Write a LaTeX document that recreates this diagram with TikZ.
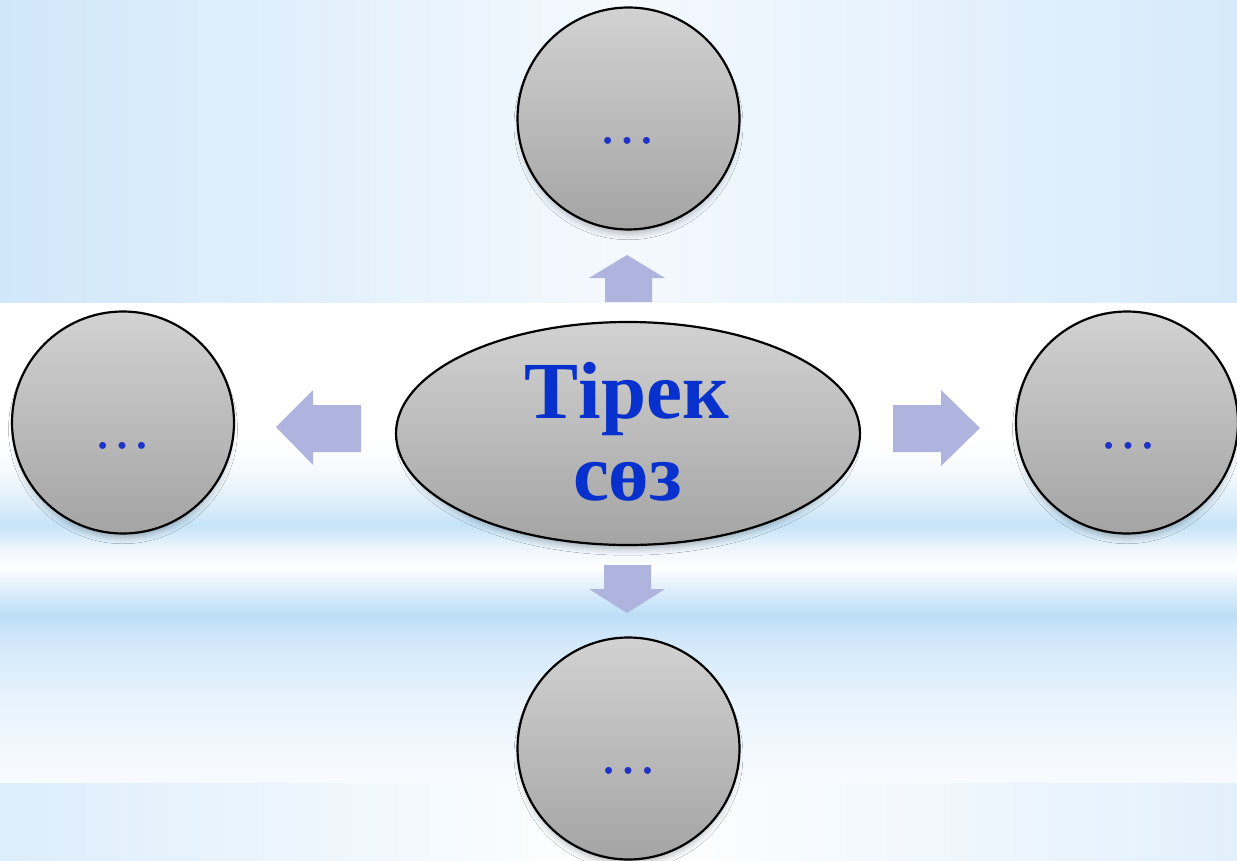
\documentclass[tikz,border=0pt]{standalone}
\usepackage{fontspec}
\setmainfont{Liberation Serif}
\usetikzlibrary{shapes.geometric,shadows.blur}
\definecolor{bgblue}{RGB}{208,231,250}
\definecolor{bgblueR}{RGB}{214,234,251}
\definecolor{bglight}{RGB}{244,249,254}
\definecolor{arrowc}{RGB}{174,180,222}
\definecolor{discTop}{RGB}{210,210,210}
\definecolor{discBot}{RGB}{164,164,164}
\definecolor{txtblue}{RGB}{8,48,204}
\definecolor{dotblue}{RGB}{30,50,200}
\tikzset{
  softshadow/.style={blur shadow={shadow xshift=0pt, shadow yshift=-7pt, shadow scale=0.97, shadow blur radius=7pt, shadow opacity=30}},
  disc/.style={circle, draw=black, line width=2.2pt, minimum size=222pt, inner sep=0pt,
    top color=discTop, bottom color=discBot, softshadow},
  keyshape/.style={ellipse, draw=black, line width=2.2pt, minimum width=464pt, minimum height=223pt, inner sep=0pt,
    top color=discTop, bottom color=discBot, softshadow},
  keyword/.style={anchor=base, text=txtblue, font=\fontsize{81}{81}\selectfont\bfseries, inner sep=0pt},
  dots/.style={anchor=base, text=dotblue, font=\fontsize{58}{58}\selectfont, inner sep=0pt},
  blockarrow/.style={fill=arrowc, draw=none}
}
\begin{document}
\begin{tikzpicture}[x=1pt,y=-1pt]
\useasboundingbox (0,0) rectangle (1237,861);
% background
\fill[white] (0,0) rectangle (1237,861);
\shade[left color=bgblue, right color=bgblueR, middle color=bglight] (0,0) rectangle (1237,302);
\shade[top color=white, bottom color={rgb,255:red,246;green,250;blue,254}] (0,440) rectangle (1237,470);
\shade[top color={rgb,255:red,246;green,250;blue,254}, bottom color={rgb,255:red,220;green,238;blue,250}] (0,470) rectangle (1237,505);
\shade[top color={rgb,255:red,220;green,238;blue,250}, bottom color={rgb,255:red,198;green,227;blue,248}] (0,505) rectangle (1237,525);
\shade[top color={rgb,255:red,198;green,227;blue,248}, bottom color={rgb,255:red,240;green,247;blue,253}] (0,525) rectangle (1237,550);
\shade[top color={rgb,255:red,240;green,247;blue,253}, bottom color=white] (0,550) rectangle (1237,568);
\shade[top color=white, bottom color={rgb,255:red,214;green,235;blue,250}] (0,568) rectangle (1237,595);
\shade[top color={rgb,255:red,214;green,235;blue,250}, bottom color={rgb,255:red,190;green,222;blue,246}] (0,595) rectangle (1237,615);
\shade[top color={rgb,255:red,190;green,222;blue,246}, bottom color={rgb,255:red,210;green,232;blue,250}] (0,615) rectangle (1237,640);
\shade[top color={rgb,255:red,210;green,232;blue,250}, bottom color={rgb,255:red,232;green,243;blue,252}] (0,640) rectangle (1237,700);
\shade[top color={rgb,255:red,232;green,243;blue,252}, bottom color={rgb,255:red,248;green,251;blue,254}] (0,700) rectangle (1237,783);
\shade[left color={rgb,255:red,220;green,237;blue,251}, right color={rgb,255:red,226;green,240;blue,252}, middle color=white] (0,783) rectangle (1237,861);

% arrows
\fill[blockarrow] (605,302) -- (605,278) -- (589,278) -- (627,255) -- (665,278) -- (652,278) -- (652,302) -- cycle;
\fill[blockarrow] (604,565) -- (651,565) -- (651,589) -- (665,589) -- (627,613) -- (589,589) -- (604,589) -- cycle;
\fill[blockarrow] (361,405) -- (313,405) -- (313,390) -- (276,427) -- (313,465) -- (313,452) -- (361,452) -- cycle;
\fill[blockarrow] (893,405) -- (941,405) -- (941,390) -- (980,428) -- (941,466) -- (941,452) -- (893,452) -- cycle;

% shapes
\node[keyshape] (key) at (628,433.5) {};
\node[disc] (top) at (628.5,118.5) {};
\node[disc] (left) at (123,422.5) {};
\node[disc] (right) at (1127,422.5) {};
\node[disc] (bottom) at (628.5,748.5) {};

% texts
\node[keyword] (w1) at (627,418) {Тірек};
\node[keyword] (w2) at (627.5,500) {сөз};
\node[dots] (d1) at (627,144) {…};
\node[dots] (d2) at (122,448) {…};
\node[dots] (d3) at (1128,448) {…};
\node[dots] (d4) at (628,773) {…};
\end{tikzpicture}
\end{document}
